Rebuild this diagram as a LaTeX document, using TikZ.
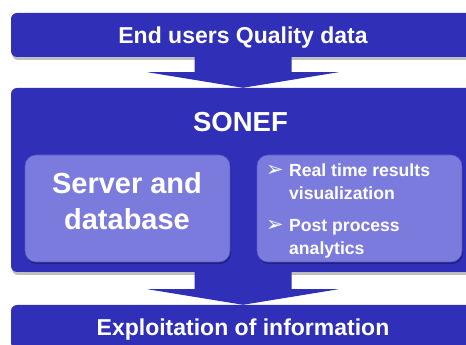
\documentclass[tikz,border=0pt]{standalone}
\usepackage{fontspec}
\setmainfont{Liberation Sans}
\newfontfamily\symfont{DejaVu Sans}
\usetikzlibrary{shadows,calc}
\definecolor{dkblue}{RGB}{47,47,184}
\definecolor{ltblue}{RGB}{123,123,222}
\definecolor{edgeblue}{RGB}{84,84,204}
\begin{document}
\begin{tikzpicture}[x=1pt,y=1pt,
  bigbox/.style={fill=dkblue, rounded corners=6pt, minimum width=464pt, minimum height=44pt, inner sep=0pt, text=white,
    font=\bfseries\fontsize{23}{27}\selectfont, text height=16.5pt, text depth=0pt,
    drop shadow={shadow xshift=1pt, shadow yshift=-3pt, fill=black, opacity=0.25}},
  innerbox/.style={fill=ltblue, draw=edgeblue, line width=0.6pt, rounded corners=11pt, minimum width=205pt, minimum height=107pt, inner sep=0pt,
    drop shadow={shadow xshift=1pt, shadow yshift=-2pt, fill=black!60!dkblue, opacity=0.5}},
  lbl/.style={text=white, inner sep=0pt},
  bul/.style={text=white, inner sep=0pt, anchor=base west, font=\symfont\fontsize{21}{21}\selectfont},
  flowarrow/.style={fill=dkblue}]
\useasboundingbox (0,0) rectangle (466,345);
\clip (0,0) rectangle (466,345);
\fill[white] (0,0) rectangle (466,345);
% top box
\node[bigbox] (top) at (243,310) {End users Quality data};
% SONEF box
\node[bigbox, minimum height=184pt] (sonef) at (243,165) {};
\node[lbl, font=\bfseries\fontsize{27.5}{33}\selectfont] (soneft) at (240.5,223) {SONEF};
% arrow 1
\fill[flowarrow] ($(top.south)+(-48.5,1)$) -- ($(top.south)+(48.5,1)$) -- ($(top.south)+(48.5,-15)$)
  -- ($(top.south)+(95.5,-15)$) -- (sonef.north) -- ($(top.south)+(-95.5,-15)$) -- ($(top.south)+(-48.5,-15)$) -- cycle;
% inner boxes
\node[innerbox] (srv) at (127.5,136.5) {};
\node[lbl, align=center, font=\bfseries\fontsize{29}{36}\selectfont] (srvt) at (127,143.5) {Server and\\database};
\node[innerbox] (res) at (359.5,136.5) {};
\node[bul] (b1) at (266,168) {➢};
\node[lbl, anchor=base west, align=left, font=\bfseries\fontsize{17.6}{23}\selectfont] (it1) at (289,145) {Real time results\\visualization};
\node[bul] (b2) at (266,113) {➢};
\node[lbl, anchor=base west, align=left, font=\bfseries\fontsize{17.6}{23}\selectfont] (it2) at (289,90) {Post process\\analytics};
% bottom box
\node[bigbox] (bot) at (243,18) {Exploitation of information};
% arrow 2
\fill[flowarrow] ($(sonef.south)+(-48.5,1)$) -- ($(sonef.south)+(48.5,1)$) -- ($(sonef.south)+(48.5,-17)$)
  -- ($(sonef.south)+(95.5,-17)$) -- (bot.north) -- ($(sonef.south)+(-95.5,-17)$) -- ($(sonef.south)+(-48.5,-17)$) -- cycle;
\end{tikzpicture}
\end{document}
